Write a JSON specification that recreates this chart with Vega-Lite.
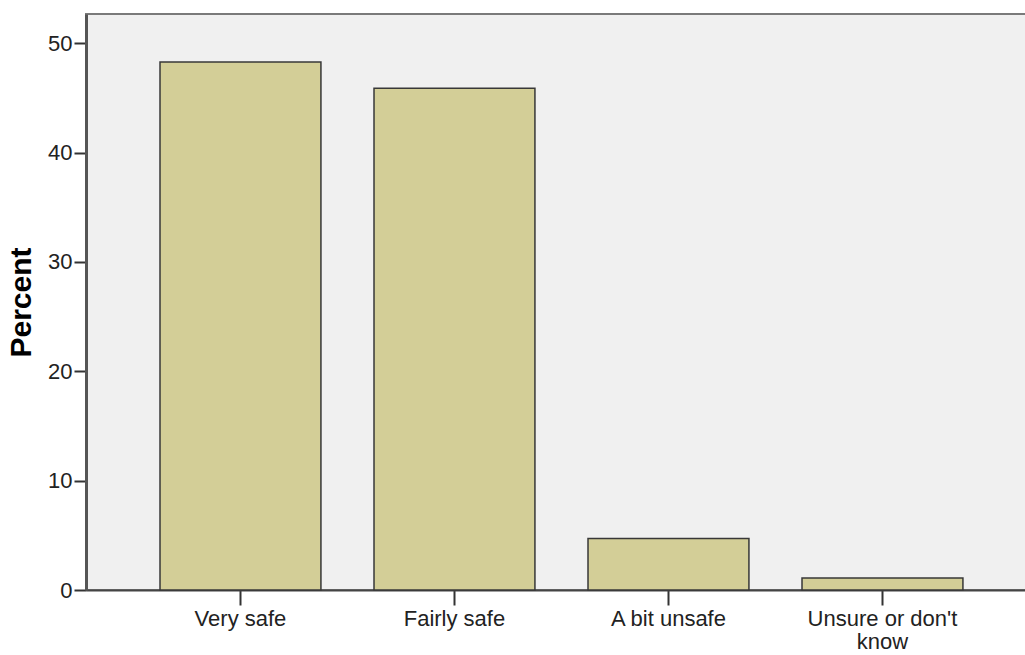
{
  "$schema": "https://vega.github.io/schema/vega-lite/v6.json",
  "autosize": {"type": "none"},
  "padding": {"left": 86, "top": 14, "right": 0, "bottom": 65},
  "width": 941,
  "height": 576,
  "background": "#FFFFFF",
  "config": {
    "font": "Liberation Sans",
    "view": {"fill": "#F0F0F0", "stroke": "#7a7a7a", "strokeWidth": 2}
  },
  "data": {
    "values": [
      {"category": "Very safe", "percent": 48.3},
      {"category": "Fairly safe", "percent": 45.9},
      {"category": "A bit unsafe", "percent": 4.7},
      {"category": "Unsure or don't know", "percent": 1.1}
    ]
  },
  "mark": {"type": "bar", "fill": "#D3CE97", "stroke": "#383838", "strokeWidth": 1.5, "strokeJoin": "miter"},
  "encoding": {
    "x": {
      "field": "category",
      "type": "nominal",
      "sort": null,
      "scale": {"paddingInner": 0.248, "paddingOuter": 0.3226, "align": 0.536},
      "axis": {
        "title": null,
        "labelAngle": 0,
        "labelFontSize": 22,
        "labelColor": "#222222",
        "labelPadding": 3,
        "labelLineHeight": 23,
        "labelExpr": "datum.label == \"Unsure or don't know\" ? [\"Unsure or don't\", \"know\"] : datum.label",
        "tickSize": 15,
        "tickColor": "#333333",
        "tickWidth": 2,
        "domainColor": "#444444",
        "domainWidth": 2,
        "grid": false
      }
    },
    "y": {
      "field": "percent",
      "type": "quantitative",
      "scale": {"domain": [0, 52.68], "nice": false, "zero": true},
      "axis": {
        "title": "Percent",
        "titleFontSize": 30,
        "titleFontWeight": "bold",
        "titleColor": "#000000",
        "titlePadding": 11,
        "values": [0, 10, 20, 30, 40, 50],
        "labelFontSize": 22,
        "labelColor": "#222222",
        "labelPadding": 2,
        "tickSize": 12,
        "tickColor": "#333333",
        "tickWidth": 2,
        "domainColor": "#555555",
        "domainWidth": 3,
        "grid": false
      }
    }
  }
}
